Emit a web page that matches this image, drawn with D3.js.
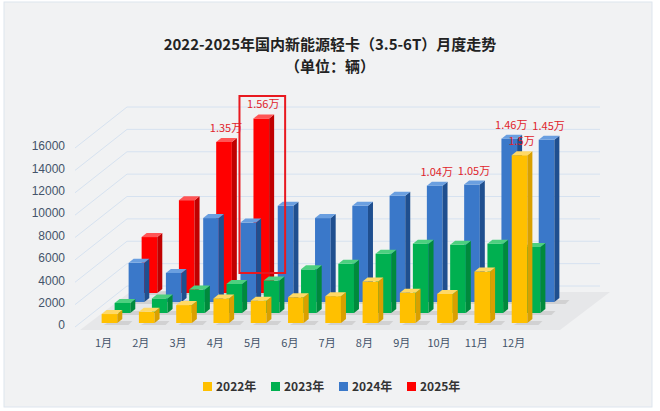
<!DOCTYPE html><html><head><meta charset="utf-8"><script src="https://cdn.jsdelivr.net/npm/d3@7"></script>
<style>body{margin:0;background:#fff}svg{font-family:"Noto Sans CJK SC","Noto Sans",sans-serif}</style></head><body><svg id="c" width="660" height="411"></svg>
<script>
const months=["1月","2月","3月","4月","5月","6月","7月","8月","9月","10月","11月","12月"];
const seriesNames=["2022年","2023年","2024年","2025年"];
const v2022=[800,1000,1600,2200,2000,2300,2400,3700,2700,2600,4600,15000];
const v2023=[900,1300,2100,2600,2900,3900,4400,5300,6200,6100,6200,5900];
const v2024=[3500,2600,7500,7100,8600,7500,8600,9500,10400,10500,14600,14500];
const v2025=[5000,8300,13500,15600];
const labels2024={8:"1.04万",9:"1.05万",10:"1.46万",11:"1.45万"};
const labels2025={2:"1.35万",3:"1.56万"};
const labels2022={11:"1.5万"};
const yTicks=[0,2000,4000,6000,8000,10000,12000,14000,16000];
const colors=[["#ffc000","#d9a000","#ffd966"],["#00b050","#008a3c","#4cd07f"],["#3a78c9","#1f4f8f","#6a9fe0"],["#ff0000","#c00000","#ff5555"]];
const svg=d3.select("#c");
svg.append("rect").attr("x",4).attr("y",2).attr("width",648).attr("height",405).attr("fill","#f1f2f3").attr("stroke","#dde5ee");
svg.append("text").attr("x",330).attr("y",50).attr("text-anchor","middle").attr("font-size",15).attr("font-weight","bold").attr("fill","#222").text("2022-2025年国内新能源轻卡（3.5-6T）月度走势");
svg.append("text").attr("x",330).attr("y",72).attr("text-anchor","middle").attr("font-size",15).attr("font-weight","bold").attr("fill","#222").text("（单位：辆）");
const x=d3.scaleBand().domain(months).range([80,549]).padding(0.58);
const h=d3.scaleLinear().domain([0,16000]).range([0,179]);
const yFront=d3.scaleLinear().domain([0,16000]).range([325,146]);
// back wall grid
const g=svg.append("g");
yTicks.forEach(t=>{const y0=yFront(t);
 g.append("path").attr("d",`M75,${y0+2}L127,${y0-39}L600,${y0-39}`).attr("fill","none").attr("stroke","#d6e2f0").attr("stroke-width",1);});
// floor
svg.append("path").attr("d","M80,330L560,330L610,292L130,292Z").attr("fill","#e6e7e9");
svg.append("g").attr("transform","translate(68,0)").call(d3.axisLeft(yFront).tickValues(yTicks).tickSize(0).tickFormat(d3.format("d")))
 .call(a=>{a.select(".domain").remove();a.selectAll("text").attr("font-size",12).attr("fill","#44546a").attr("font-family","Liberation Sans,sans-serif");});
const rows=[{v:v2022,c:colors[0],dx:0,base:323,lab:labels2022},{v:v2023,c:colors[1],dx:13,base:313,lab:{}},{v:v2024,c:colors[2],dx:27,base:302,lab:labels2024},{v:v2025,c:colors[3],dx:40,base:293,lab:labels2025}];
const dep=5,bw=x.bandwidth();
const labelLayer=[];
[3,2,1,0].forEach(ri=>{const r=rows[ri];const rg=svg.append("g");
 r.v.forEach((val,i)=>{const x0=x(months[i])+r.dx,ht=h(val),top=r.base-ht;
  rg.append("path").attr("d",`M${x0+2},${r.base+2}L${x0+bw+dep+6},${r.base+2}L${x0+bw+dep+10},${r.base-2}L${x0+dep+4},${r.base-2}Z`).attr("fill","#bbb").attr("opacity",0.5);
  rg.append("rect").attr("x",x0).attr("y",top).attr("width",bw).attr("height",ht).attr("fill",r.c[0]);
  rg.append("path").attr("d",`M${x0+bw},${top}L${x0+bw+dep},${top-4}L${x0+bw+dep},${r.base-4}L${x0+bw},${r.base}Z`).attr("fill",r.c[1]);
  rg.append("path").attr("d",`M${x0},${top}L${x0+dep},${top-4}L${x0+bw+dep},${top-4}L${x0+bw},${top}Z`).attr("fill",r.c[2]);
  if(r.lab[i])labelLayer.push([x0+bw/2+2,top-10,r.lab[i]]);
 });});
labelLayer.forEach(l=>svg.append("text").attr("x",l[0]).attr("y",l[1]).attr("text-anchor","middle").attr("font-size",11).attr("fill","#e0242b").text(l[2]));
// highlight box on 2025 April
{const x0=x(months[3])+40;svg.append("rect").attr("x",x0-14).attr("y",96).attr("width",bw+30).attr("height",177).attr("fill","none").attr("stroke","#e8191f").attr("stroke-width",2);}
svg.append("g").selectAll("text").data(months).join("text").attr("x",d=>x(d)+bw/2-6).attr("y",347).attr("text-anchor","middle").attr("font-size",11).attr("fill","#44546a").text(d=>d);
const lg=svg.append("g");
seriesNames.forEach((s,i)=>{const lx=203+i*68;
 lg.append("rect").attr("x",lx).attr("y",382).attr("width",9).attr("height",9).attr("fill",colors[i][0]);
 lg.append("text").attr("x",lx+13).attr("y",391).attr("font-size",12).attr("font-weight","bold").attr("fill","#333").text(s);});
</script></body></html>
